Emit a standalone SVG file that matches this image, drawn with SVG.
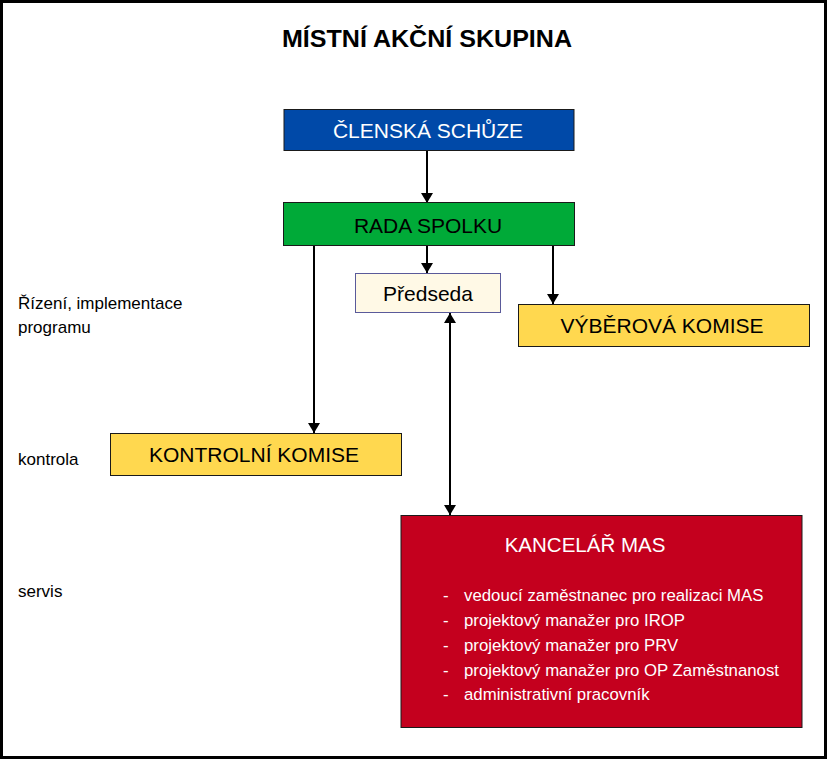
<svg xmlns="http://www.w3.org/2000/svg" width="827" height="759" viewBox="0 0 827 759">
  <style>
    text { font-family: "Liberation Sans", Arial, sans-serif; }
    .box { stroke: #1a1a1a; stroke-width: 1; }
    .lbl { font-size: 21px; text-anchor: middle; fill: #000; }
    .side { font-size: 17px; fill: #000; }
    .item { font-size: 16.8px; fill: #fff; }
    .conn { stroke: #000; stroke-width: 2; fill: none; }
  </style>
  <defs>
    <marker id="ah" viewBox="0 0 10 12" refX="10" refY="6" markerWidth="10" markerHeight="12" markerUnits="userSpaceOnUse" orient="auto-start-reverse">
      <path d="M0,0 L10,6 L0,12 Z" fill="#000"/>
    </marker>
  </defs>
  <rect x="0" y="0" width="827" height="759" fill="#fff"/>
  <rect x="1.5" y="1.5" width="824" height="756" fill="none" stroke="#000" stroke-width="3"/>

  <text id="title" x="427" y="47" font-size="23.5" font-weight="bold" text-anchor="middle" textLength="290" lengthAdjust="spacingAndGlyphs">MÍSTNÍ AKČNÍ SKUPINA</text>

  <g id="side-labels">
    <text class="side" x="18" y="309">Řízení, implementace</text>
    <text class="side" x="18" y="333">programu</text>
    <text class="side" x="18" y="465">kontrola</text>
    <text class="side" x="18" y="597">servis</text>
  </g>

  <g id="connectors">
    <line class="conn" x1="427" y1="151" x2="427" y2="203" marker-end="url(#ah)"/>
    <line class="conn" x1="427" y1="245" x2="427" y2="273" marker-end="url(#ah)"/>
    <line class="conn" x1="314" y1="245" x2="314" y2="433" marker-end="url(#ah)"/>
    <line class="conn" x1="553" y1="245" x2="553" y2="304" marker-end="url(#ah)"/>
    <line class="conn" x1="450" y1="313" x2="450" y2="515" marker-start="url(#ah)" marker-end="url(#ah)"/>
  </g>

  <g id="clenska-schuze">
    <rect class="box" x="284" y="109.5" width="290" height="41" fill="#0049A8"/>
    <text class="lbl" x="428" y="138" style="fill:#fff">ČLENSKÁ SCHŮZE</text>
  </g>

  <g id="rada-spolku">
    <rect class="box" x="283.5" y="202.5" width="291" height="43" fill="#00AA38"/>
    <text class="lbl" x="428" y="233">RADA SPOLKU</text>
  </g>

  <g id="predseda">
    <rect x="355.5" y="273.5" width="145" height="39" fill="#FFF9E6" stroke="#5A5A9A" stroke-width="1"/>
    <text class="lbl" x="428" y="301">Předseda</text>
  </g>

  <g id="vyberova-komise">
    <rect class="box" x="518.5" y="304.5" width="291" height="42" fill="#FFD84F"/>
    <text class="lbl" x="662" y="333">VÝBĚROVÁ KOMISE</text>
  </g>

  <g id="kontrolni-komise">
    <rect class="box" x="110.5" y="433.5" width="291" height="42" fill="#FFD84F"/>
    <text class="lbl" x="254" y="462">KONTROLNÍ KOMISE</text>
  </g>

  <g id="kancelar-mas">
    <rect class="box" x="401" y="515.5" width="401" height="212" fill="#C4001E"/>
    <text x="585" y="552" font-size="20.5" fill="#fff" text-anchor="middle">KANCELÁŘ MAS</text>
    <text class="item" x="443" y="601">-</text>
    <text class="item" x="464" y="601">vedoucí zaměstnanec pro realizaci MAS</text>
    <text class="item" x="443" y="626">-</text>
    <text class="item" x="464" y="626">projektový manažer pro IROP</text>
    <text class="item" x="443" y="651">-</text>
    <text class="item" x="464" y="651">projektový manažer pro PRV</text>
    <text class="item" x="443" y="676">-</text>
    <text class="item" x="464" y="676">projektový manažer pro OP Zaměstnanost</text>
    <text class="item" x="443" y="700">-</text>
    <text class="item" x="464" y="700">administrativní pracovník</text>
  </g>
</svg>
